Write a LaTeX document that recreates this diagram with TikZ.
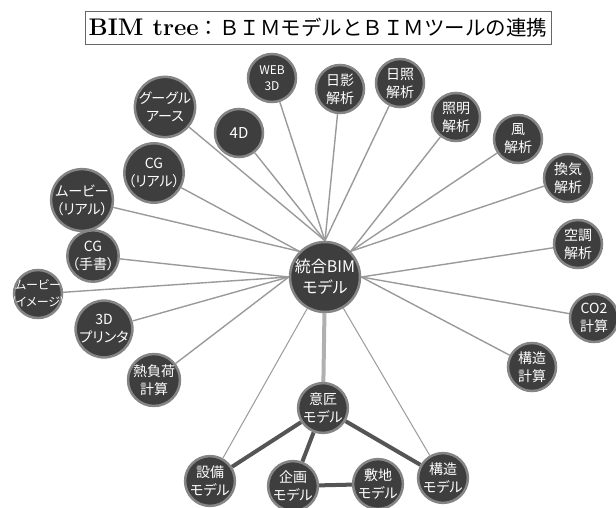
\documentclass[tikz,border=0pt]{standalone}
\usepackage{fontspec}
\usetikzlibrary{backgrounds}
\newfontfamily\cjk[RawFeature=+palt]{Noto Sans CJK JP}
\newfontfamily\cjkfull{Noto Sans CJK JP}
\definecolor{ballfill}{HTML}{3E3E3E}
\definecolor{ballring}{HTML}{858585}
\definecolor{spokegray}{HTML}{9A9A9A}
\definecolor{trunkgray}{HTML}{B0B0B0}
\definecolor{linkgray}{HTML}{555555}
\tikzset{
  tool/.style={circle,draw=ballring,line width=2.5pt,fill=ballfill,text=white,
    minimum size=48pt,inner sep=0pt,align=center,font=\cjk\fontsize{14}{18}\selectfont},
  hubball/.style={tool,minimum size=70pt,font=\cjk\fontsize{16}{21}\selectfont},
  spoke/.style={draw=spokegray,line width=1.4pt},
  trunk/.style={draw=trunkgray,line width=4pt},
  link/.style={draw=linkgray,line width=4pt},
}
\newcommand{\tight}[1]{\makebox[36pt]{#1}}
\begin{document}
\begin{tikzpicture}[x=1pt,y=-1pt]
\useasboundingbox (0,0) rectangle (616,508);
\node[draw=black!60,fill=white,line width=0.8pt,minimum width=466pt,minimum height=33pt,inner sep=0pt] (title) at (318,27.5)
  {{\bfseries\fontsize{24}{24}\selectfont BIM tree}\cjkfull\fontsize{20.5}{20.5}\selectfont ：ＢＩＭモデルとＢＩＭツールの連携};
% hub and tools
\node[hubball] (hub) at (325,277) {統合BIM\\モデル};
\node[tool,font=\cjk\fontsize{12}{16}\selectfont] (web) at (272,78) {WEB\\3D};
\node[tool] (hikage) at (340,89) {日影\\解析};
\node[tool] (nissho) at (400,83) {日照\\解析};
\node[tool] (shomei) at (456,117) {照明\\解析};
\node[tool] (kaze) at (518,139) {風\\解析};
\node[tool] (kanki) at (568,178) {換気\\解析};
\node[tool] (kucho) at (578,244) {空調\\解析};
\node[tool] (co2) at (594,318) {CO2\\計算};
\node[tool] (kozokeisan) at (532,367) {構造\\計算};
\node[tool] (netsu) at (154,380) {熱負荷\\計算};
\node[tool] (printer) at (104,329) {3D\\プリンタ};
\node[tool,font=\cjk\fontsize{12}{17}\selectfont] (movimg) at (38,294) {\tight{ムービー}\\\tight{(イメージ)}};
\node[tool] (cgte) at (93,256) {CG\\（手書）};
\node[tool] (movreal) at (82,200) {ムービー\\（リアル）};
\node[tool] (cgreal) at (154,173) {CG\\（リアル）};
\node[tool] (google) at (165,107) {グーグル\\アース};
\node[tool,font=\cjk\fontsize{15}{18}\selectfont] (fourd) at (239,133) {4D};
% models
\node[tool] (isho) at (323,408) {意匠\\モデル};
\node[tool] (setsubi) at (210,481) {設備\\モデル};
\node[tool] (kikaku) at (293,486) {企画\\モデル};
\node[tool] (shikichi) at (378,484) {敷地\\モデル};
\node[tool] (kozo) at (443,478) {構造\\モデル};
\begin{scope}[on background layer]
\foreach \n in {cgreal,movreal} \draw[spoke] (hub.north west) -- (\n);
\foreach \n in {cgte,movimg,printer,netsu} \draw[spoke] (hub.west) -- (\n);
\foreach \n in {google,fourd,web,hikage,nissho} \draw[spoke] (hub.north) -- (\n);
\foreach \n in {shomei,kaze,kanki} \draw[spoke] (hub.north east) -- (\n);
\foreach \n in {kucho,co2,kozokeisan} \draw[spoke] (hub.east) -- (\n);
\foreach \n in {setsubi,kozo} \draw[spoke,line width=1pt] (hub) -- (\n);
\draw[trunk] (hub) -- (isho);
\draw[link] (isho) -- (setsubi) (isho) -- (kozo) (isho) -- (kikaku) (kikaku) -- (shikichi);
\end{scope}
\end{tikzpicture}
\end{document}
